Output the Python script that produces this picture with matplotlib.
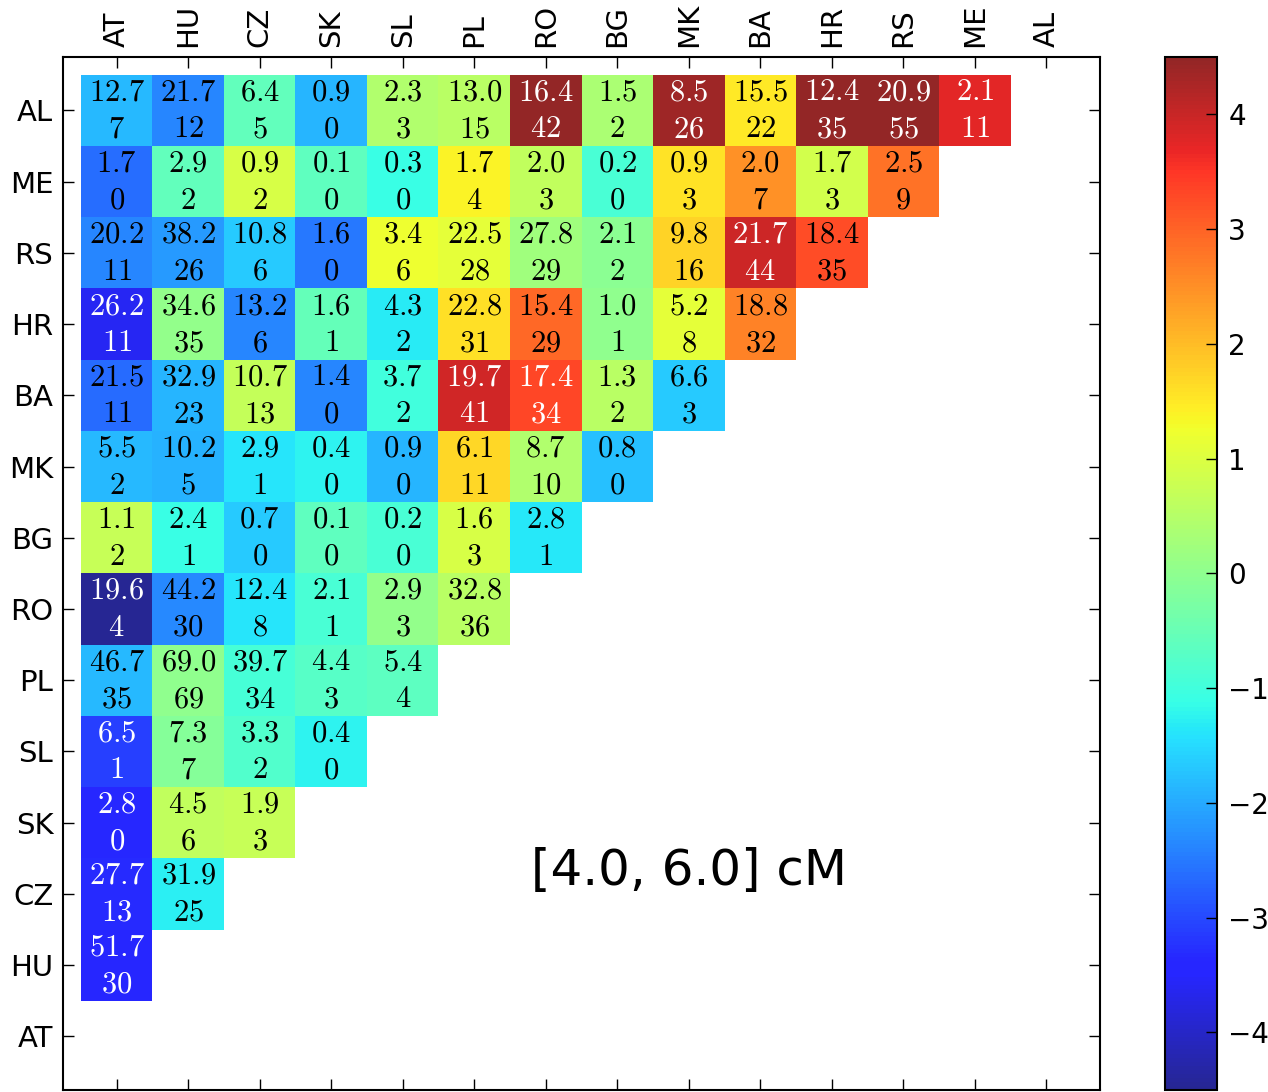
import numpy as np
import matplotlib.pyplot as plt

plt.rcParams['mathtext.fontset'] = 'cm'

# populations along the columns; rows run the other way round
pops = ['AT', 'HU', 'CZ', 'SK', 'SL', 'PL', 'RO', 'BG', 'MK', 'BA', 'HR', 'RS', 'ME', 'AL']
rows = pops[::-1]

# expected number of shared blocks (top number in each cell)
expected = [
    [12.7, 21.7, 6.4, 0.9, 2.3, 13.0, 16.4, 1.5, 8.5, 15.5, 12.4, 20.9, 2.1],
    [1.7, 2.9, 0.9, 0.1, 0.3, 1.7, 2.0, 0.2, 0.9, 2.0, 1.7, 2.5],
    [20.2, 38.2, 10.8, 1.6, 3.4, 22.5, 27.8, 2.1, 9.8, 21.7, 18.4],
    [26.2, 34.6, 13.2, 1.6, 4.3, 22.8, 15.4, 1.0, 5.2, 18.8],
    [21.5, 32.9, 10.7, 1.4, 3.7, 19.7, 17.4, 1.3, 6.6],
    [5.5, 10.2, 2.9, 0.4, 0.9, 6.1, 8.7, 0.8],
    [1.1, 2.4, 0.7, 0.1, 0.2, 1.6, 2.8],
    [19.6, 44.2, 12.4, 2.1, 2.9, 32.8],
    [46.7, 69.0, 39.7, 4.4, 5.4],
    [6.5, 7.3, 3.3, 0.4],
    [2.8, 4.5, 1.9],
    [27.7, 31.9],
    [51.7],
    [],
]

# observed number of shared blocks (bottom number)
observed = [
    [7, 12, 5, 0, 3, 15, 42, 2, 26, 22, 35, 55, 11],
    [0, 2, 2, 0, 0, 4, 3, 0, 3, 7, 3, 9],
    [11, 26, 6, 0, 6, 28, 29, 2, 16, 44, 35],
    [11, 35, 6, 1, 2, 31, 29, 1, 8, 32],
    [11, 23, 13, 0, 2, 41, 34, 2, 3],
    [2, 5, 1, 0, 0, 11, 10, 0],
    [2, 1, 0, 0, 0, 3, 1],
    [4, 30, 8, 1, 3, 36],
    [35, 69, 34, 3, 4],
    [1, 7, 2, 0],
    [0, 6, 3],
    [13, 25],
    [30],
    [],
]

n = len(pops)

# variance-stabilised deviation of observed from expected
score = np.ma.masked_all((n, n))
for i, (e_row, o_row) in enumerate(zip(expected, observed)):
    for j, (e, o) in enumerate(zip(e_row, o_row)):
        score[i, j] = 2 * (np.sqrt(o) - np.sqrt(e))

fig = plt.figure(figsize=(12.68, 10.92), dpi=100)
ax = fig.add_axes([0.0497, 0.002, 0.8178, 0.9459])

edges = np.arange(n + 1) - 0.5
mesh = ax.pcolormesh(edges, edges, score, cmap='jet', vmin=-4.5, vmax=4.5, alpha=0.85)

for i, (e_row, o_row) in enumerate(zip(expected, observed)):
    for j, (e, o) in enumerate(zip(e_row, o_row)):
        v = score[i, j]
        c = 'white' if (v < -3 or v > 3.3) else 'black'
        ax.text(j, i - 0.26, '$%.1f$' % e, ha='center', va='center', fontsize=22, color=c)
        ax.text(j, i + 0.26, '$%d$' % o, ha='center', va='center', fontsize=22, color=c)

ax.set_xlim(-0.75, n - 0.25)
ax.set_ylim(n - 0.25, -0.75)

ax.set_xticks(range(n))
ax.set_xticklabels(pops, rotation=90)
ax.set_yticks(range(n))
ax.set_yticklabels(rows)
ax.tick_params(direction='in', length=8, width=1, top=True, bottom=True, left=True, right=True,
               labeltop=True, labelbottom=False, labelsize=21, pad=7)
for s in ax.spines.values():
    s.set_linewidth(1.5)

ax.text(8.0, 10.68, '[4.0, 6.0] cM', fontsize=36, ha='center', va='center')

cax = fig.add_axes([0.9188, 0.002, 0.041, 0.9459])
cb = fig.colorbar(mesh, cax=cax, ticks=range(-4, 5))
cb.ax.tick_params(direction='in', length=8, width=1, labelsize=20, pad=8)
cb.outline.set_linewidth(1.5)

fig.savefig('out.png', dpi=100)
